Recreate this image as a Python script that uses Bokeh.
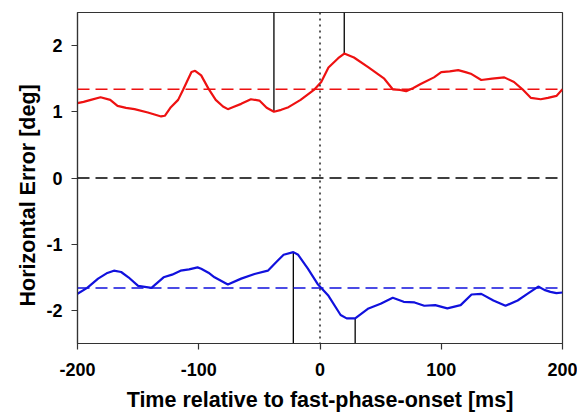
from bokeh.plotting import figure
from bokeh.models import Span, FixedTicker, Range1d, Title
from bokeh.embed import file_html
from bokeh.resources import INLINE

# ---- data ----
red_t = [-200, -195, -189, -181, -173, -167, -160, -153, -142, -131,
         -128, -123, -117, -113, -106, -103, -98, -92, -86, -80,
         -76, -72, -65, -57, -50, -44, -38, -32, -26, -16,
         -5, 1, 7, 15, 20, 28, 40, 53, 60, 66,
         71, 77, 83, 94, 100, 107, 114, 120, 125, 133,
         142, 152, 160, 167, 174, 182, 188, 195, 200]
red_v = [1.13, 1.15, 1.18, 1.22, 1.18, 1.09, 1.06, 1.04, 0.99, 0.93,
         0.94, 1.07, 1.18, 1.33, 1.60, 1.62, 1.55, 1.35, 1.18, 1.08,
         1.04, 1.07, 1.12, 1.19, 1.17, 1.06, 1.00, 1.03, 1.07, 1.18,
         1.33, 1.45, 1.67, 1.81, 1.88, 1.82, 1.67, 1.50, 1.34, 1.33,
         1.31, 1.36, 1.42, 1.52, 1.60, 1.61, 1.63, 1.60, 1.57, 1.48,
         1.50, 1.52, 1.45, 1.34, 1.21, 1.19, 1.21, 1.24, 1.34]

blue_t = [-200, -192, -183, -176, -170, -164, -158, -150, -139, -129,
          -122, -115, -108, -101, -98, -92, -87, -76, -65, -54,
          -43, -35, -30, -22, -18, -10, -2, 7, 17, 22,
          29, 40, 50, 60, 69, 78, 86, 95, 105, 116,
          125, 133, 143, 153, 163, 171, 180, 185, 190, 195,
          200]
blue_v = [-1.75, -1.66, -1.52, -1.44, -1.40, -1.42, -1.50, -1.63, -1.66, -1.50,
          -1.46, -1.40, -1.38, -1.35, -1.37, -1.43, -1.50, -1.61, -1.52, -1.45,
          -1.40, -1.25, -1.16, -1.12, -1.16, -1.37, -1.60, -1.78, -2.07, -2.12,
          -2.12, -1.97, -1.90, -1.81, -1.87, -1.88, -1.93, -1.92, -1.97, -1.92,
          -1.76, -1.75, -1.85, -1.93, -1.85, -1.75, -1.64, -1.69, -1.72, -1.74,
          -1.73]

red_mean = 1.34
blue_mean = -1.66
zero_level = 0.0
onset_t = 0

red_marker_t = [-38, 20]
red_marker_v = [1.00, 1.88]
blue_marker_t = [-22, 29]
blue_marker_v = [-1.12, -2.12]

x_ticks = [-200, -100, 0, 100, 200]
y_ticks = [-2, -1, 0, 1, 2]
x_tick_labels = ["-200", "-100", "0", "100", "200"]
y_tick_labels = ["-2", "-1", "0", "1", "2"]
x_min, x_max = -200, 200
y_min, y_max = -2.5, 2.5

x_title = "Time relative to fast-phase-onset [ms]"
y_title = "Horizontal Error [deg]"

RED = "#ee1111"
BLUE = "#1111dd"
FONT = "Liberation Sans"

p = figure(width=577, height=414,
           x_range=Range1d(x_min, x_max), y_range=Range1d(y_min, y_max),
           output_backend="svg", toolbar_location=None,
           min_border_left=77, min_border_right=15,
           min_border_top=12, min_border_bottom=70)
p.xgrid.visible = False
p.ygrid.visible = False
p.outline_line_color = "#333333"
p.outline_line_width = 1.2
p.background_fill_color = "white"
p.border_fill_color = "white"

# reference lines
p.add_layout(Span(location=red_mean, dimension="width", line_color=RED,
                  line_width=1.5, line_dash="12 6"))
p.add_layout(Span(location=blue_mean, dimension="width", line_color=BLUE,
                  line_width=1.5, line_dash="12 6"))
p.add_layout(Span(location=zero_level, dimension="width", line_color="black",
                  line_width=1.5, line_dash="12 6"))
p.add_layout(Span(location=onset_t, dimension="height", line_color="#222222",
                  line_width=1.5, line_dash="2 4"))

# markers from frame edge to curve extrema
p.segment(x0=red_marker_t, y0=[y_max] * len(red_marker_t),
          x1=red_marker_t, y1=red_marker_v, line_color="black", line_width=1.3)
p.segment(x0=blue_marker_t, y0=[y_min] * len(blue_marker_t),
          x1=blue_marker_t, y1=blue_marker_v, line_color="black", line_width=1.3)

# curves
p.line(red_t, red_v, line_color=RED, line_width=2.2)
p.line(blue_t, blue_v, line_color=BLUE, line_width=2.2)

# axes
p.xaxis.ticker = FixedTicker(ticks=x_ticks)
p.yaxis.ticker = FixedTicker(ticks=y_ticks)
p.xaxis.major_label_overrides = dict(zip(x_ticks, x_tick_labels))
p.yaxis.major_label_overrides = dict(zip(y_ticks, y_tick_labels))
for ax in (p.xaxis, p.yaxis):
    ax.major_tick_in = 0
    ax.major_tick_out = 6
    ax.minor_tick_line_color = None
    ax.axis_line_color = "#333333"
    ax.axis_line_width = 1.2
    ax.major_tick_line_color = "#333333"
    ax.major_tick_line_width = 1.2
    ax.major_label_text_font = FONT
    ax.major_label_text_font_style = "bold"
    ax.major_label_text_font_size = "18px"
    ax.major_label_text_color = "black"
    ax.axis_label_text_font = FONT
    ax.axis_label_text_font_style = "bold"
    ax.axis_label_text_font_size = "21.5px"
    ax.axis_label_text_color = "black"

p.xaxis.axis_label = x_title
p.xaxis.major_label_standoff = 13
p.xaxis.axis_label_standoff = 9
p.yaxis.major_label_standoff = 9

# y title: starts a little above the frame bottom, like the reference
p.add_layout(Title(text=y_title, align="left", offset=37, standoff=8,
                   text_font=FONT, text_font_style="bold",
                   text_font_size="21.5px", text_color="black"), "left")

open("out.html", "w").write(file_html(p, INLINE))
